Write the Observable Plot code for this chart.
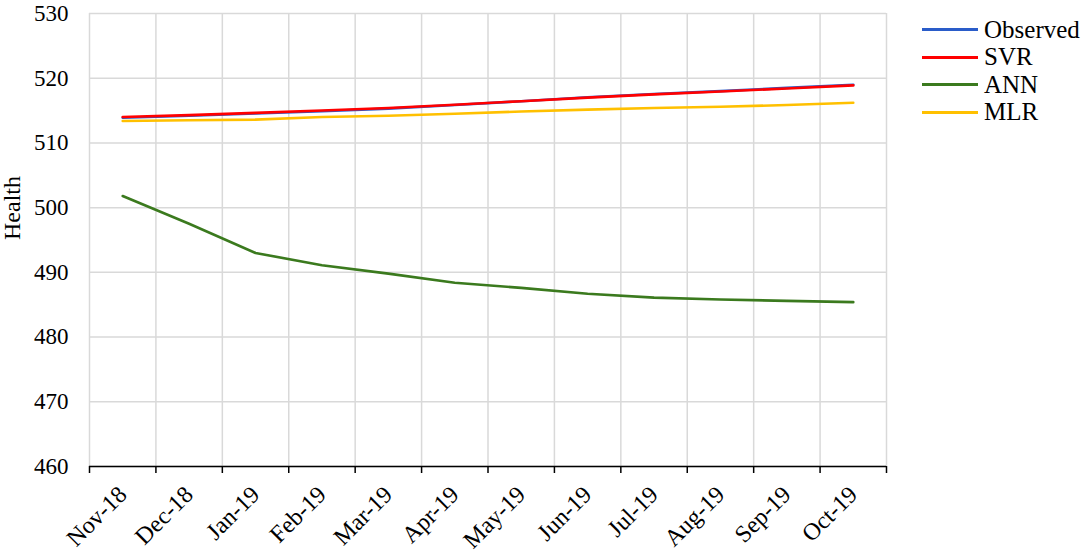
<!DOCTYPE html>
<html>
<head>
<meta charset="utf-8">
<script src="https://cdn.jsdelivr.net/npm/d3@7"></script>
<script src="https://cdn.jsdelivr.net/npm/@observablehq/plot@0.6"></script>
<style>
  html, body { margin: 0; padding: 0; background: #fff; }
  #wrap { position: relative; width: 1084px; height: 557px; }
  #legend { position: absolute; left: 922px; top: 16px; font-family: "Liberation Serif", "Times New Roman", Tinos, "DejaVu Serif", serif; font-size: 25px; color: #000; }
  .row { display: flex; align-items: center; height: 27.5px; }
  .sw { width: 56px; height: 3px; margin-right: 6px; }
  svg text { font-family: "Liberation Serif", "Times New Roman", Tinos, "DejaVu Serif", serif; }
</style>
</head>
<body>
<div id="wrap"><div id="legend"></div></div>
<script>
const months = ["Nov-18","Dec-18","Jan-19","Feb-19","Mar-19","Apr-19","May-19","Jun-19","Jul-19","Aug-19","Sep-19","Oct-19"];
const observed = [513.9, 514.2, 514.55, 514.9, 515.3, 515.85, 516.45, 517.05, 517.55, 518.0, 518.5, 519.0];
const svr      = [514.0, 514.3, 514.65, 515.0, 515.4, 515.9, 516.45, 517.0, 517.5, 517.95, 518.4, 518.9];
const ann      = [501.8, 497.5, 493.0, 491.1, 489.8, 488.4, 487.6, 486.7, 486.1, 485.8, 485.6, 485.4];
const mlr      = [513.4, 513.5, 513.6, 514.0, 514.2, 514.5, 514.85, 515.15, 515.4, 515.6, 515.85, 516.2];
const yTicks = [460, 470, 480, 490, 500, 510, 520, 530];
const seriesNames = ["Observed", "SVR", "ANN", "MLR"];
const seriesValues = [observed, svr, ann, mlr];
const yLabel = "Health";

const palette = ["#2a5cc9", "#ff0000", "#3b7a1e", "#ffc000"];
const serif = "'Liberation Serif', 'Times New Roman', Tinos, 'DejaVu Serif', serif";

const rows = [];
seriesNames.forEach((s, k) => seriesValues[k].forEach((v, i) => rows.push({i, month: months[i], series: s, value: v})));
const centers = months.map((_, i) => i);
const bounds = d3.range(months.length + 1).map(i => i - 0.5);

const chart = Plot.plot({
  width: 1084,
  height: 557,
  marginLeft: 89,
  marginRight: 198,
  marginTop: 13,
  marginBottom: 91,
  x: {type: "linear", domain: [-0.5, months.length - 0.5]},
  y: {domain: [460, 530]},
  color: {domain: seriesNames, range: palette},
  style: {fontFamily: serif, fontSize: "24px", color: "#000", background: "#fff"},
  marks: [
    Plot.ruleY(yTicks, {y: d => d, stroke: "#d9d9d9", strokeWidth: 1.5}),
    Plot.ruleX(bounds, {x: d => d, stroke: "#d9d9d9", strokeWidth: 1.5}),
    Plot.axisY(yTicks, {tickSize: 0, tickPadding: 21, label: null, fontSize: 23}),
    Plot.axisX(bounds, {tickSize: 7, tickFormat: () => "", label: null, stroke: "#000", strokeWidth: 1.5}),
    Plot.ruleY([460], {stroke: "#000", strokeWidth: 1.5}),
    Plot.axisX(centers, {tickSize: 0, tickPadding: 24, tickRotate: -45, tickFormat: i => months[i], label: null, fontSize: 24}),
    Plot.lineY(rows, {x: "i", y: "value", z: "series", stroke: "series", strokeWidth: 2.6}),
    Plot.text([yLabel], {frameAnchor: "left", dx: -77, rotate: -90, fontSize: 24})
  ]
});
document.getElementById("wrap").prepend(chart);

const legend = document.getElementById("legend");
seriesNames.forEach((s, k) => {
  const r = document.createElement("div");
  r.className = "row";
  const sw = document.createElement("div");
  sw.className = "sw";
  sw.style.background = palette[k];
  const t = document.createElement("span");
  t.textContent = s;
  r.append(sw, t);
  legend.append(r);
});
</script>
</body>
</html>
